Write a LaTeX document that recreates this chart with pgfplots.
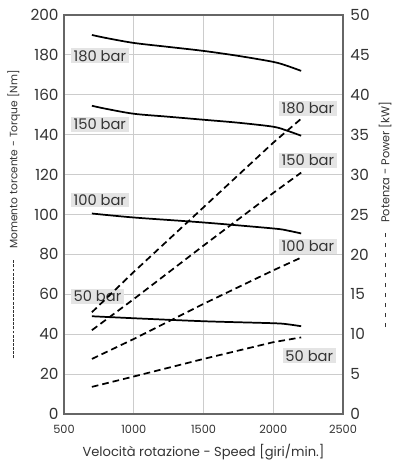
\documentclass[border=0pt]{standalone}
\usepackage{pgfplots}
\pgfplotsset{compat=1.18}
\usepackage{fontspec}
\setmainfont{Poppins}
\definecolor{gridc}{HTML}{CCCCCC}
\definecolor{axc}{HTML}{666666}
\definecolor{lblbg}{HTML}{E4E4E4}
\definecolor{txt}{HTML}{333333}
\begin{document}
\begin{tikzpicture}[x=1pt,y=1pt]
\path[use as bounding box] (-48pt,-43.5pt) rectangle (252pt,310.5pt);
\begin{axis}[
  at={(0,0)}, anchor=south west,
  scale only axis, width=209.25pt, height=299.25pt,
  xmin=500, xmax=2500, ymin=0, ymax=200,
  xtick={500,1000,1500,2000,2500},
  ytick={0,20,...,200},
  grid=major, major grid style={gridc, line width=0.6pt},
  axis line style={axc, line width=0.9pt},
  tick style={draw=none},
  /pgf/number format/assume math mode=true,
  /pgf/number format/1000 sep={},
  x tick label style={font=\fontsize{8.5}{9}\selectfont, text=txt, yshift=-5pt},
  y tick label style={font=\fontsize{11.5}{12}\selectfont, text=txt, xshift=-0.5pt},
  xlabel={Velocità rotazione - Speed [giri/min.]},
  xlabel style={font=\fontsize{9.8}{10}\selectfont, text=txt, yshift=-1pt},
  ylabel={\tikz[baseline=-0.6ex]\draw[txt, line width=0.5pt, dash pattern=on 2.2pt off 0.9pt] (0,0)--(74pt,0);\hspace{8pt}Momento torcente - Torque [Nm]},
  ylabel style={font=\fontsize{8}{9}\selectfont, text=txt, yshift=1pt},
  clip=false,
]
\addplot[black, line width=1.3pt, smooth] coordinates {(700,190) (800,188.5) (1000,186) (1250,184) (1500,182) (1750,179.5) (2000,176.5) (2100,174.5) (2200,172)};
\addplot[black, line width=1.3pt, smooth] coordinates {(700,154.5) (800,153) (1000,150.5) (1250,149) (1500,147.5) (1750,146) (2000,144) (2100,142) (2200,139.5)};
\addplot[black, line width=1.3pt, smooth] coordinates {(700,100.5) (1000,98.5) (1500,96) (2000,93) (2100,92) (2200,90.5)};
\addplot[black, line width=1.3pt, smooth] coordinates {(700,49) (1000,48) (1500,46.5) (2000,45.5) (2100,45) (2200,44)};
\tikzset{lbl/.style={fill=lblbg, text=txt, font=\fontsize{11}{12}\selectfont, inner xsep=2pt, inner ysep=1.4pt}}
\node[lbl, anchor=west] at (axis cs:548,179.5) {180 bar};
\node[lbl, anchor=west] at (axis cs:548,145.25) {150 bar};
\node[lbl, anchor=west] at (axis cs:548,107.25) {100 bar};
\node[lbl, anchor=west] at (axis cs:548,59) {50 bar};
\node[lbl, anchor=east] at (axis cs:2457,153.25) {180 bar};
\node[lbl, anchor=east] at (axis cs:2457,127) {150 bar};
\node[lbl, anchor=east] at (axis cs:2457,84) {100 bar};
\node[lbl, anchor=east] at (axis cs:2450,29.25) {50 bar};
\end{axis}
\begin{axis}[
  at={(0,0)}, anchor=south west,
  scale only axis, width=209.25pt, height=299.25pt,
  xmin=500, xmax=2500, ymin=0, ymax=50,
  axis x line=none,
  axis y line*=right,
  ytick={0,5,...,50},
  axis line style={axc, line width=0.9pt},
  tick style={draw=none},
  /pgf/number format/assume math mode=true,
  y tick label style={font=\fontsize{11.5}{12}\selectfont, text=txt, xshift=2pt},
  ylabel={\tikz[baseline=-0.6ex]\draw[txt, line width=0.5pt, dash pattern=on 3pt off 4.5pt] (0,0)--(72pt,0);\hspace{6pt}Potenza - Power [kW]},
  ylabel style={font=\fontsize{8.5}{9}\selectfont, text=txt, yshift=0pt},
]
\addplot[black, line width=1.3pt, dash pattern=on 5pt off 3pt] coordinates {(700,12.75) (1000,17.8) (1500,25.9) (2000,34) (2200,37)};
\addplot[black, line width=1.3pt, dash pattern=on 5pt off 3pt] coordinates {(700,10.5) (1000,14.4) (1500,21.1) (2000,27.7) (2200,30.25)};
\addplot[black, line width=1.3pt, dash pattern=on 5pt off 3pt] coordinates {(700,6.9) (1000,9.4) (1500,13.8) (2000,18) (2200,19.6)};
\addplot[black, line width=1.3pt, dash pattern=on 5pt off 3pt] coordinates {(700,3.4) (1000,4.7) (1500,6.9) (2000,9) (2200,9.6)};
\end{axis}
\end{tikzpicture}
\end{document}
